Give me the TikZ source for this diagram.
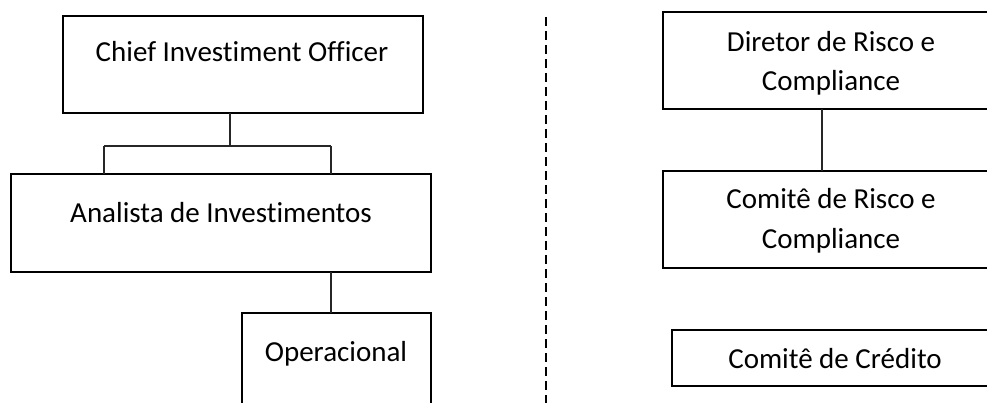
\documentclass[tikz,border=0pt]{standalone}
\usepackage{fontspec}
\setmainfont{Carlito}[Ligatures=NoCommon]
\begin{document}
\begin{tikzpicture}[x=1pt,y=-1pt,
  box/.style={draw=black,line width=1.6pt,inner sep=0pt,outer sep=0pt,anchor=north west},
  lbl/.style={anchor=base,inner sep=0pt,font=\fontsize{29}{39}\selectfont},
  conn/.style={draw=black!85,line width=1.1pt}]
\clip (0,0) rectangle (987,403);
\useasboundingbox (0,0) rectangle (987,403);
% left column
\node[box,minimum width=360pt,minimum height=97pt] (cio) at (63,16) {};
\node[lbl] (cioT) at (242,62) {Chief Investiment Officer};
\node[box,minimum width=420pt,minimum height=98pt] (ana) at (11,174) {};
\node[lbl] (anaT) at (221,223) {Analista de Investimentos};
\node[box,minimum width=189pt,minimum height=120pt] (op) at (242,313) {};
\node[lbl] (opT) at (336,361) {Operacional};
% right column
\node[box,minimum width=340pt,minimum height=97pt] (dir) at (663,12) {};
\node[lbl] (dirT1) at (831,52) {Diretor de Risco e};
\node[lbl] (dirT2) at (831,91) {Compliance};
\node[box,minimum width=340pt,minimum height=97pt] (com) at (663,171) {};
\node[lbl] (comT1) at (831,209) {Comitê de Risco e};
\node[lbl] (comT2) at (831,248) {Compliance};
\node[box,minimum width=330pt,minimum height=56pt] (cre) at (672,330) {};
\node[lbl] (creT) at (835,368) {Comitê de Crédito};
% connectors
\coordinate (jl) at (104,146);
\coordinate (jr) at (331,146);
\coordinate (cb) at ([xshift=-13pt]cio.south);
\draw[conn] (cb) -- (cb |- jl);
\draw[conn] (jl) -- (jr);
\draw[conn] (jl) -- (jl |- ana.north);
\draw[conn] (jr) -- (jr |- ana.north);
\coordinate (ab) at ([xshift=110pt]ana.south);
\draw[conn] (ab) -- (ab |- op.north);
\coordinate (db) at ([xshift=-11pt]dir.south);
\draw[conn] (db) -- (db |- com.north);
% divider
\coordinate (dt) at (546,17);
\coordinate (dbot) at (546,403);
\draw[line width=1.4pt,dash pattern=on 9pt off 5pt] (dt) -- (dbot);
\end{tikzpicture}
\end{document}
